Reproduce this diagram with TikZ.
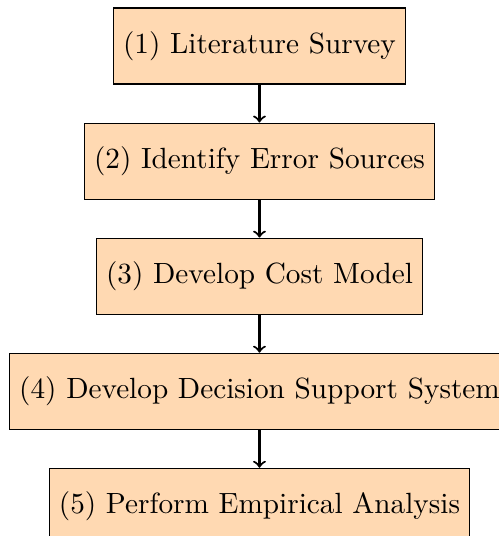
\documentclass[tikz,border=0pt,11pt]{standalone}
\usepackage{tikz}
\usetikzlibrary{positioning}
\tikzstyle{stage}=[rectangle, draw=black, fill=orange!30, minimum height=1cm]
\tikzstyle{flow}=[->, thick]

\begin{document}
\begin{tikzpicture}[node distance=0.5cm]
\useasboundingbox (-3.414,0.605) rectangle (3.151,-6.447);
\node [stage](lit) at (0,0){(1) Literature Survey};
\node [stage,below=of lit](err){(2) Identify Error Sources};
\node [stage,below=of err](cost){(3) Develop Cost Model};
\node [stage,below=of cost](dss){(4) Develop Decision Support System};
\node [stage,below=of dss](emp){(5) Perform Empirical Analysis};
\draw [flow] (lit) -- (err);
\draw [flow] (err) -- (cost);
\draw [flow] (cost) -- (dss);
\draw [flow] (dss) -- (emp);

\end{tikzpicture}
\end{document}
